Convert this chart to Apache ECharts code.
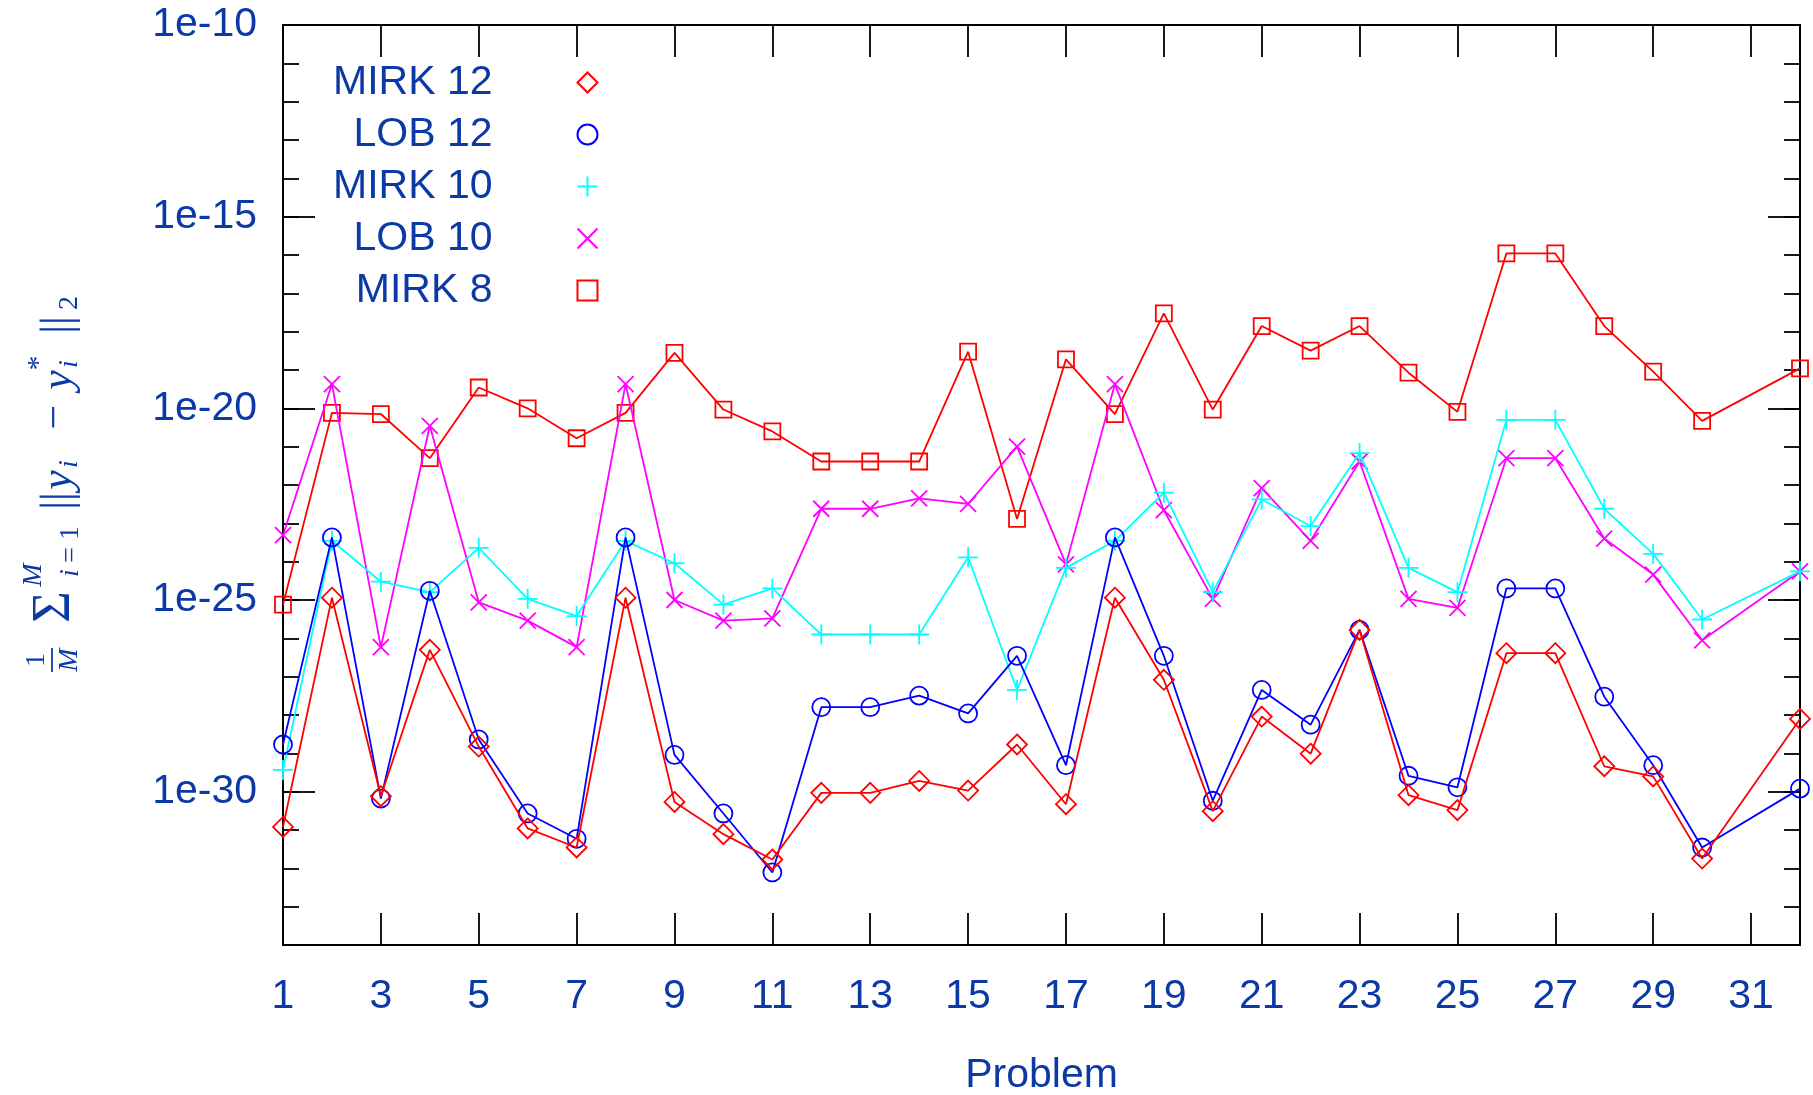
<!DOCTYPE html>
<html>
<head>
<meta charset="utf-8">
<script src="https://cdn.jsdelivr.net/npm/echarts@6/dist/echarts.min.js"></script>
<style>
  html, body { margin: 0; padding: 0; background: #fff; }
  #chart { width: 1813px; height: 1095px; }
</style>
</head>
<body>
<div id="chart"></div>
<script>
// ---- data (null = no value for that problem) ----
const problems = [1,2,3,4,5,6,7,8,9,10,11,12,13,14,15,16,17,18,19,20,21,22,23,24,25,26,27,28,29,30,31,32];

const mirk12 = [1.2e-31,1.15e-25,7.6e-31,5.0e-27,1.5e-29,1.1e-31,3.5e-32,1.15e-25,5.4e-31,7.8e-32,1.7e-32,9.3e-31,9.3e-31,1.9e-30,1.07e-30,1.7e-29,4.7e-31,1.15e-25,8.3e-28,3.1e-31,9.1e-29,9.8e-30,1.66e-26,8.1e-31,3.3e-31,4.1e-27,4.1e-27,4.6e-30,2.5e-30,1.8e-32,null,7.9e-29];

const lob12 = [1.7e-29,4.3e-24,6.6e-31,1.74e-25,2.3e-29,2.7e-31,5.9e-32,4.3e-24,9.1e-30,2.7e-31,7.8e-33,1.6e-28,1.6e-28,3.2e-28,1.1e-28,3.5e-27,4.9e-30,4.3e-24,3.5e-27,5.8e-31,4.5e-28,5.6e-29,1.66e-26,2.6e-30,1.3e-30,2.0e-25,2.0e-25,3.0e-28,4.9e-30,3.5e-32,null,1.2e-30];

const mirk10 = [3.7e-30,3.5e-24,3.0e-25,1.6e-25,2.3e-24,1.07e-25,3.8e-26,3.5e-24,9.1e-25,7.6e-26,2.0e-25,1.26e-26,1.26e-26,1.26e-26,1.3e-24,4.5e-28,6.9e-25,3.5e-24,6.3e-23,1.6e-25,4.2e-23,8.5e-24,6.8e-22,6.9e-25,1.6e-25,5.0e-21,5.0e-21,2.4e-23,1.6e-24,3.1e-26,null,5.6e-25];

const lob10 = [4.9e-24,4.3e-20,5.9e-27,3.5e-21,8.7e-26,2.9e-26,5.9e-27,4.3e-20,1.0e-25,2.9e-26,3.3e-26,2.4e-23,2.4e-23,4.5e-23,3.2e-23,1.0e-21,8.5e-25,4.3e-20,2.2e-23,1.07e-25,8.3e-23,3.5e-24,4.1e-22,1.07e-25,6.2e-26,5.0e-22,5.0e-22,4.0e-24,4.6e-25,8.9e-27,null,5.6e-25];

const mirk8 = [7.6e-26,7.6e-21,7.1e-21,5.0e-22,3.5e-20,1.0e-20,1.66e-21,7.6e-21,2.8e-19,9.3e-21,2.5e-21,4.1e-22,4.1e-22,4.1e-22,3.0e-19,1.3e-23,1.9e-19,7.1e-21,3.0e-18,9.3e-21,1.4e-18,3.2e-19,1.4e-18,8.5e-20,8.1e-21,1.1e-16,1.1e-16,1.4e-18,9.1e-20,4.7e-21,null,1.1e-19];

const seriesNames = ['MIRK 12','LOB 12','MIRK 10','LOB 10','MIRK 8'];
const xTickValues = [1,3,5,7,9,11,13,15,17,19,21,23,25,27,29,31];
const yMajorExponents = [-30,-25,-20,-15,-10];
const yMinorExponents = [-34,-33,-32,-31,-30,-29,-28,-27,-26,-25,-24,-23,-22,-21,-20,-19,-18,-17,-16,-15,-14,-13,-12,-11,-10];

// ---- styling ----
const TXT = '#0b3aa6';
const FONT = 'Liberation Sans';
const DIAMOND = 'path://M5,0 L10,5 L5,10 L0,5 Z';
const SQUARE = 'path://M0,0 L10,0 L10,10 L0,10 Z';
const PLUS = 'path://M5,0 L5,10 M0,5 L10,5';
const CROSS = 'path://M0,0 L10,10 M10,0 L0,10';

const styles = [
  { color: '#ff0000', symbol: DIAMOND, size: 20 },
  { color: '#0000ff', symbol: 'circle', size: 18 },
  { color: '#00ffff', symbol: PLUS, size: 20 },
  { color: '#ff00ff', symbol: CROSS, size: 16 },
  { color: '#ff0000', symbol: SQUARE, size: 16 }
];
const allValues = [mirk12, lob12, mirk10, lob10, mirk8];

function toPoints(vals) {
  const pts = [];
  problems.forEach((p, i) => {
    if (vals[i] !== null && vals[i] !== undefined) pts.push([p, Math.log10(vals[i])]);
  });
  return pts;
}

const series = allValues.map((vals, k) => ({
  name: seriesNames[k],
  type: 'line',
  xAxisIndex: 0,
  yAxisIndex: 0,
  data: toPoints(vals),
  symbol: styles[k].symbol,
  symbolSize: styles[k].size,
  showAllSymbol: true,
  lineStyle: { color: styles[k].color, width: 1.8 },
  itemStyle: { color: 'rgba(0,0,0,0)', borderColor: styles[k].color, borderWidth: 1.8 },
  emphasis: { disabled: true },
  z: 10 - k,
  animation: false
}));

function yAxisDef(position, values, len, showLine, showLabel) {
  return {
    type: 'value', position: position, min: -34, max: -10,
    axisLine: { show: showLine, lineStyle: { color: '#000', width: 2 } },
    axisTick: { show: true, inside: true, length: len, customValues: values, lineStyle: { color: '#000', width: 1.8 } },
    axisLabel: showLabel ? {
      show: true, customValues: values, margin: 26,
      fontSize: 41, fontFamily: FONT, color: TXT,
      formatter: v => '1e' + v
    } : { show: false },
    splitLine: { show: false }
  };
}

function mt(text, x, y, size, italic, family) {
  return {
    type: 'text', x: x, y: y,
    style: { text: text, fontSize: size, fontFamily: family || 'Liberation Serif',
             fontStyle: italic ? 'italic' : 'normal', fill: TXT,
             textAlign: 'center', textVerticalAlign: 'middle' }
  };
}

const option = {
  backgroundColor: '#fff',
  animation: false,
  grid: { left: 283, right: 13, top: 25, bottom: 150, containLabel: false, outerBoundsMode: 'none' },
  xAxis: [
    {
      type: 'value', position: 'bottom', min: 1, max: 32,
      axisLine: { lineStyle: { color: '#000', width: 2 } },
      axisTick: { inside: true, length: 32, customValues: xTickValues, lineStyle: { color: '#000', width: 1.8 } },
      axisLabel: { customValues: xTickValues, margin: 31, fontSize: 41, fontFamily: FONT, color: TXT },
      splitLine: { show: false },
      name: 'Problem', nameLocation: 'middle', nameGap: 110,
      nameTextStyle: { fontSize: 41, fontFamily: FONT, color: TXT }
    },
    {
      type: 'value', position: 'top', min: 1, max: 32,
      axisLine: { lineStyle: { color: '#000', width: 2 } },
      axisTick: { inside: true, length: 32, customValues: xTickValues, lineStyle: { color: '#000', width: 1.8 } },
      axisLabel: { show: false },
      splitLine: { show: false }
    }
  ],
  yAxis: [
    yAxisDef('left', yMajorExponents, 32, true, true),
    yAxisDef('left', yMinorExponents, 16, false, false),
    yAxisDef('right', yMajorExponents, 32, true, false),
    yAxisDef('right', yMinorExponents, 16, false, false)
  ],
  legend: {
    orient: 'vertical', left: 333, top: 62, padding: 0,
    align: 'right', itemWidth: 180, itemHeight: 20, itemGap: 11,
    selectedMode: false,
    textStyle: { fontSize: 41, fontFamily: FONT, color: TXT },
    data: seriesNames.map((n, k) => ({ name: n, icon: styles[k].symbol }))
  },
  graphic: [
    {
      type: 'group', x: 59, y: 485, rotation: Math.PI / 2,
      children: [
        mt('1', -175, -22, 28, false),
        { type: 'line', shape: { x1: -187, y1: -7, x2: -163, y2: -7 }, style: { stroke: TXT, lineWidth: 1.8 } },
        mt('M', -175, 11, 28, true),
        mt('\u03A3', -122, -4, 54, false, 'Liberation Serif'),
        mt('M', -90, -25, 28, true),
        mt('i', -88, 12, 28, true),
        mt('=', -70, 12, 28, false),
        mt('1', -48, 12, 28, false),
        mt('||', -16, 0, 44, false),
        mt('y', 5, 0, 44, true),
        mt('i', 21, 11, 28, true),
        mt('\u2212', 68, -3, 44, false),
        mt('y', 105, 0, 44, true),
        mt('*', 122, -20, 30, false),
        mt('i', 121, 11, 28, true),
        mt('||', 160, 0, 44, false),
        mt('2', 182, 11, 28, false)
      ]
    }
  ],
  series: series
};

const chart = echarts.init(document.getElementById('chart'), null, { renderer: 'canvas' });
chart.setOption(option);
</script>
</body>
</html>
